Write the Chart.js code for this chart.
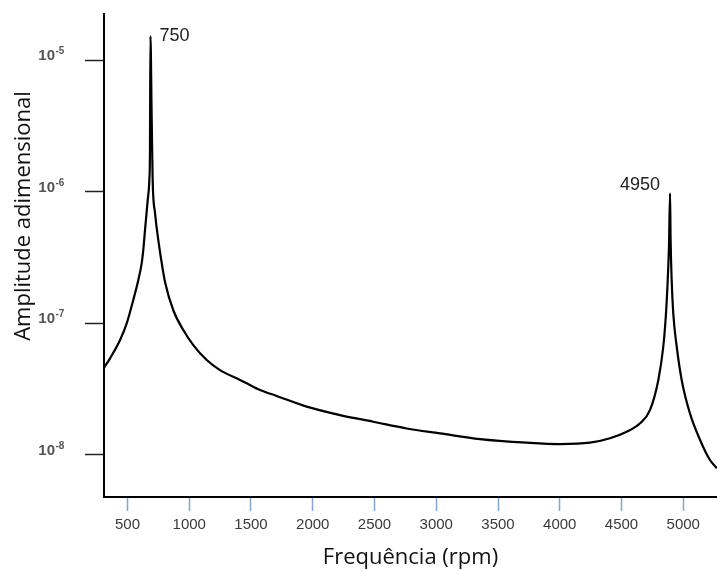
<!DOCTYPE html>
<html>
<head>
<meta charset="utf-8">
<script src="https://cdn.jsdelivr.net/npm/chart.js@4/dist/chart.umd.min.js"></script>
<style>
  body { margin: 0; background: #fff; }
  canvas { display: block; }
</style>
</head>
<body>
<canvas id="line-chart" width="717" height="571"></canvas>
<script>
// rpm / amplitude
var rpm = [310, 359, 440, 494, 547, 588, 615, 628, 642, 664, 677, 682, 686, 696, 704, 723, 758, 780, 804, 871, 952, 1033, 1142, 1249,
    1411, 1465, 1573, 1708, 1951, 2221, 2490, 2761, 3031, 3354, 3732, 4002, 4245, 4407, 4542, 4650, 4731, 4798, 4838,
    4860, 4874, 4884, 4893, 4897, 4906, 4919, 4947, 4987, 5054, 5136, 5216, 5273];
var amplitude = [4.6e-8, 5.43e-8, 7.48e-8, 1.0e-7, 1.51e-7, 2.14e-7, 2.86e-7, 3.61e-7, 5.13e-7, 8.69e-7, 1.23e-6, 1.98e-6, 1.53e-5,
    3.71e-6, 1.23e-6, 6.92e-7, 3.79e-7, 2.78e-7, 2.07e-7, 1.26e-7, 8.91e-8, 6.85e-8, 5.27e-8, 4.42e-8,
    3.72e-8, 3.51e-8, 3.12e-8, 2.81e-8, 2.33e-8, 2.01e-8, 1.79e-8, 1.59e-8, 1.46e-8, 1.32e-8, 1.24e-8, 1.21e-8, 1.24e-8,
    1.34e-8, 1.5e-8, 1.74e-8, 2.2e-8, 3.72e-8, 6.65e-8,
    1.19e-7, 2.14e-7, 3.79e-7, 9.75e-7, 4.57e-7, 2.14e-7, 1.19e-7, 6.65e-8, 3.72e-8, 2.07e-8, 1.3e-8, 9.15e-9, 7.91e-9];

var xTicks = [500, 1000, 1500, 2000, 2500, 3000, 3500, 4000, 4500, 5000];
var yTicks = [1e-8, 1e-7, 1e-6, 1e-5];
var yTickBase = '10';
var yTickExp = ['-8', '-7', '-6', '-5'];

// peak notes
var noteX = [686, 4893];
var noteY = [1.53e-5, 9.75e-7];
var noteText = ['750', '4950'];

var points = [];
for (i = 0; i < rpm.length; i++) {
    points.push({x: rpm[i], y: amplitude[i]});
}

var notesPlugin = {
    id: 'notes',
    afterDraw: function(chart) {
        var ctx = chart.ctx;
        var xs = chart.scales.x, ys = chart.scales.y;
        ctx.save();
        ctx.fillStyle = '#222';
        ctx.font = '18px "Liberation Sans", Arial, sans-serif';
        ctx.textBaseline = 'middle';
        for (var k = 0; k < noteText.length; k++) {
            var px = xs.getPixelForValue(noteX[k]);
            var py = ys.getPixelForValue(noteY[k]);
            if (k == 0) {
                ctx.textAlign = 'left';
                ctx.fillText(noteText[k], px + 9, py);
            } else {
                ctx.textAlign = 'right';
                ctx.fillText(noteText[k], px - 10, py - 8);
            }
        }

        // y tick labels: 10 with a raised exponent
        ctx.fillStyle = '#555';
        ctx.textBaseline = 'alphabetic';
        for (var t = 0; t < yTicks.length; t++) {
            var ty = ys.getPixelForValue(yTicks[t]);
            ctx.textAlign = 'right';
            ctx.font = 'bold 15px "Liberation Sans Narrow", "Liberation Sans", sans-serif';
            ctx.fillText(yTickBase, 55, ty);
            ctx.textAlign = 'left';
            ctx.font = 'bold 10px "Liberation Sans Narrow", "Liberation Sans", sans-serif';
            ctx.fillText(yTickExp[t], 55.5, ty - 6);
        }

        // y axis title
        ctx.translate(24, 216);
        ctx.rotate(-Math.PI / 2);
        ctx.textAlign = 'center';
        ctx.textBaseline = 'middle';
        ctx.fillStyle = '#111';
        ctx.font = '22px "Open Sans", sans-serif';
        ctx.fillText('Amplitude adimensional', 0, 0);
        ctx.restore();
    }
};

new Chart(document.getElementById('line-chart'), {
    type: 'line',
    data: {
        datasets: [{
            label: 'amplitude',
            data: points,
            borderColor: '#000',
            borderWidth: 2.2,
            pointRadius: 0,
            fill: false,
            cubicInterpolationMode: 'monotone'
        }]
    },
    options: {
        responsive: false,
        animation: false,
        layout: { padding: { top: 14, right: 0, left: 0, bottom: 0 } },
        plugins: {
            legend: { display: false },
            tooltip: { enabled: false }
        },
        scales: {
            x: {
                type: 'linear',
                min: 310,
                max: 5273,
                afterBuildTicks: function(s) { s.ticks = xTicks.map(function(v) { return {value: v}; }); },
                afterFit: function(s) { s.height = 74; s.paddingLeft = 0; s.paddingRight = 0; },
                grid: { drawOnChartArea: false, tickLength: 14, tickColor: '#7fa8d4', tickWidth: 1.5 },
                border: { color: '#000', width: 2 },
                ticks: {
                    padding: 5,
                    color: '#3a3a3a',
                    font: { size: 15, family: '"Liberation Sans", Arial, sans-serif' },
                    maxRotation: 0,
                    callback: function(v) { return String(v); }
                },
                title: {
                    display: true,
                    text: 'Frequência (rpm)',
                    color: '#111',
                    font: { size: 22, family: '"Open Sans", sans-serif' },
                    padding: { top: 0, bottom: 0 }
                }
            },
            y: {
                type: 'logarithmic',
                min: 4.79e-9,
                max: 2.254e-5,
                afterBuildTicks: function(s) { s.ticks = yTicks.map(function(v) { return {value: v}; }); },
                afterFit: function(s) { s.width = 104; s.paddingTop = 0; s.paddingBottom = 0; },
                grid: { drawOnChartArea: false, tickLength: 19, tickColor: '#222', tickWidth: 1.5 },
                border: { color: '#000', width: 2 },
                ticks: { display: false }
            }
        }
    },
    plugins: [notesPlugin]
});
</script>
</body>
</html>
